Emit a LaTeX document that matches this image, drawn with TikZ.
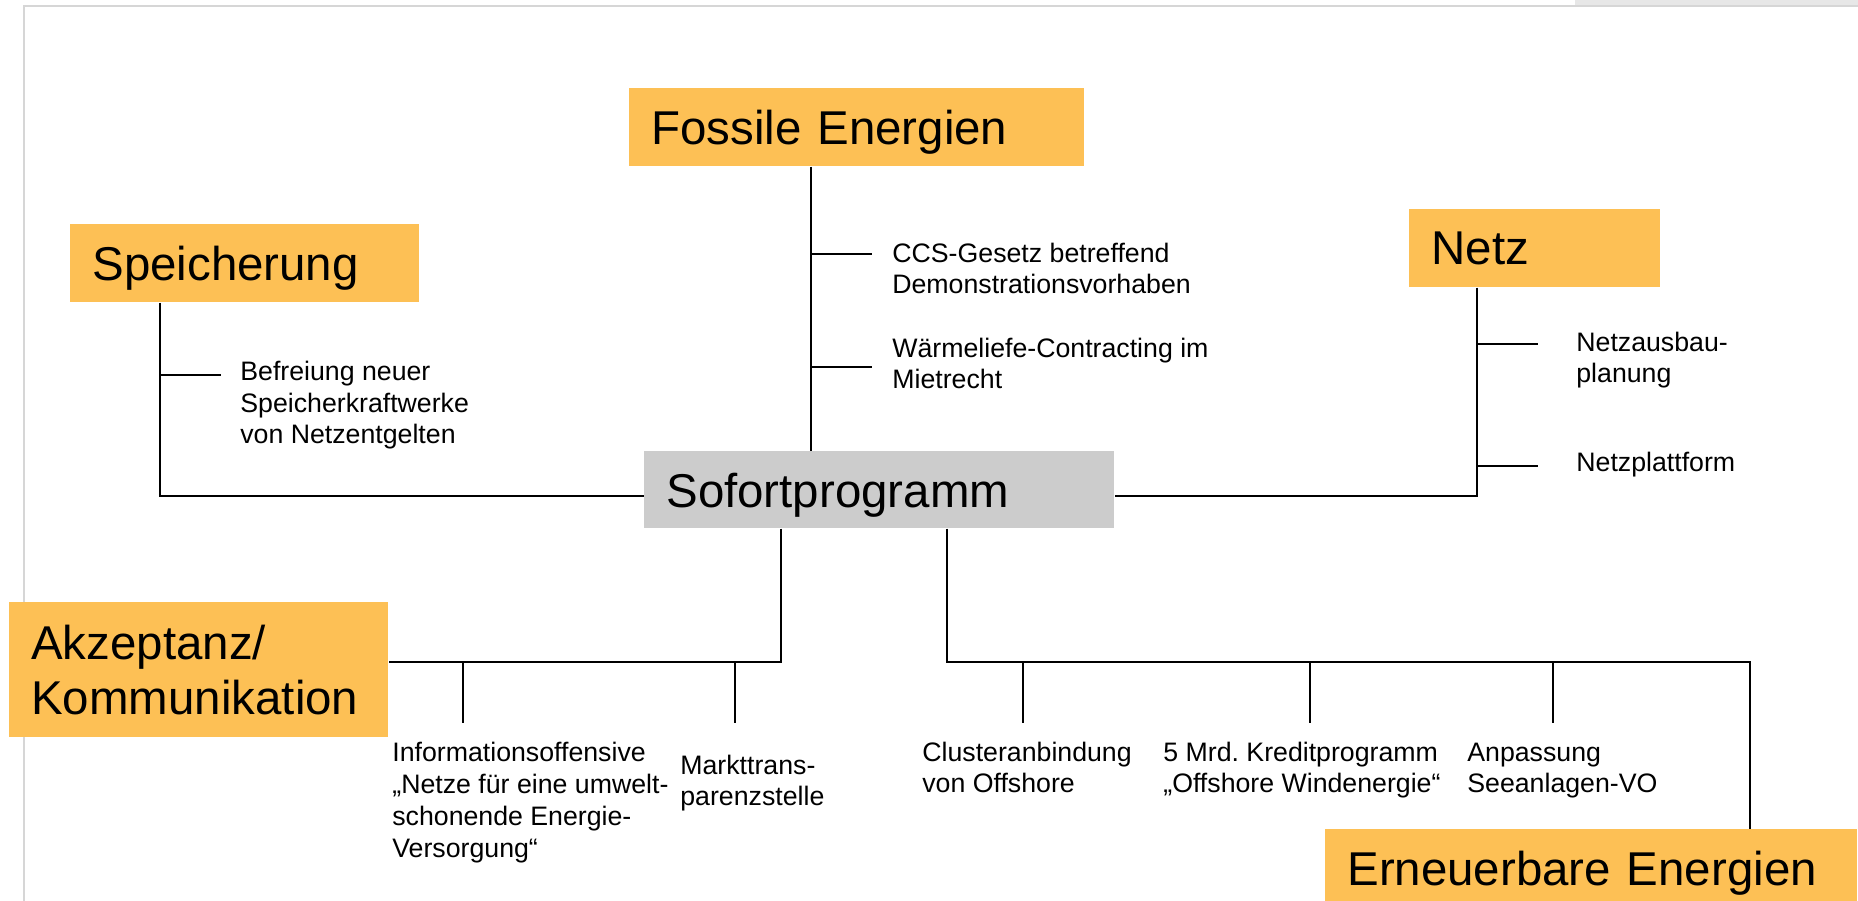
\documentclass[tikz,border=0pt]{standalone}
\usepackage{fontspec}
\setmainfont{Liberation Sans}
\frenchspacing
\definecolor{boxorange}{HTML}{FDC055}
\definecolor{boxgray}{HTML}{CCCCCC}
\definecolor{framegray}{HTML}{D6D6D6}

\begin{document}
\begin{tikzpicture}[x=0.2mm,y=-0.2mm,
    topic/.style={fill=boxorange, anchor=north west, inner xsep=4.4mm, inner ysep=0pt,
      minimum height=15.6mm, text depth=0pt, align=left, font=\fontsize{27}{31.3}\selectfont},
    item/.style={anchor=base west, inner sep=0pt, align=left,
      font=\fontsize{15.2}{18.2}\selectfont},
    link/.style={line width=1pt}]
    \useasboundingbox (0,0) rectangle (1858,901);
    \fill[framegray!60] (1575,0) rectangle (1858,5);
    \draw[framegray, line width=1.2pt] (24,901) -- (24,6) -- (1858,6); % slide frame

    \node[topic, text width=82.2mm] (fossil) at (629,88) {Fossile Energien};
    \node[topic, text width=61mm] (store) at (70,224) {Speicherung};
    \node[topic, text width=41.4mm] (netz) at (1409,209) {Netz};
    \node[topic, fill=boxgray, text width=85.2mm, minimum height=15.4mm] (sofort) at (644,451) {Sofortprogramm};
    \node[topic, text depth=, text width=67mm, minimum height=27mm] (akz) at (9,602) {Akzeptanz/\\Kommunikation};
    \node[topic, text width=97.6mm] (ee) at (1325,829) {Erneuerbare Energien};

    % junctions
    \coordinate (js) at (160,496);
    \coordinate (jf) at (811,0);
    \coordinate (jn) at (1477,496);
    \coordinate (ja) at (781,662);
    \coordinate (jb) at (947,662);
    \coordinate (je) at (1750,662);

    \draw[link] (store.south -| js) |- (sofort.west |- js);
    \draw[link] (fossil.south -| jf) -- (sofort.north -| jf);
    \draw[link] (netz.south -| jn) |- (sofort.east |- jn);
    \draw[link] (sofort.south -| ja) |- (akz.east |- ja);
    \draw[link] (sofort.south -| jb) |- (je) -- (ee.north -| je);

    \foreach \x/\y in {160/375, 811/254, 811/367, 1477/344, 1477/466}
      \draw[link] (\x,\y) -- ++(61,0);
    \foreach \x in {463,735,1023,1310,1553}
      \draw[link] (\x,662) -- (\x,723);

    % texts sit on the baseline of their last line
    \node[item] (befreiung) at (240,444) {Befreiung neuer\\Speicherkraftwerke\\von Netzentgelten};
    \node[item] (ccs) at (892,294) {CCS-Gesetz betreffend\\Demonstrationsvorhaben};
    \node[item] (waerme) at (892,389) {Wärmeliefe-Contracting im\\Mietrecht};
    \node[item] (ausbau) at (1576,383) {Netzausbau-\\planung};
    \node[item] (plattform) at (1576,472) {Netzplattform};
    \node[item] (info) at (392,857) {Informationsoffensive\\„Netze für eine umwelt-\\schonende Energie-\\Versorgung“};
    \node[item] (markt) at (680,806) {Markttrans-\\parenzstelle};
    \node[item] (cluster) at (922,793) {Clusteranbindung\\von Offshore};
    \node[item] (kredit) at (1163,793) {5 Mrd. Kreditprogramm\\„Offshore Windenergie“};
    \node[item] (seeanl) at (1467,793) {Anpassung\\Seeanlagen-VO};
\end{tikzpicture}
\end{document}
